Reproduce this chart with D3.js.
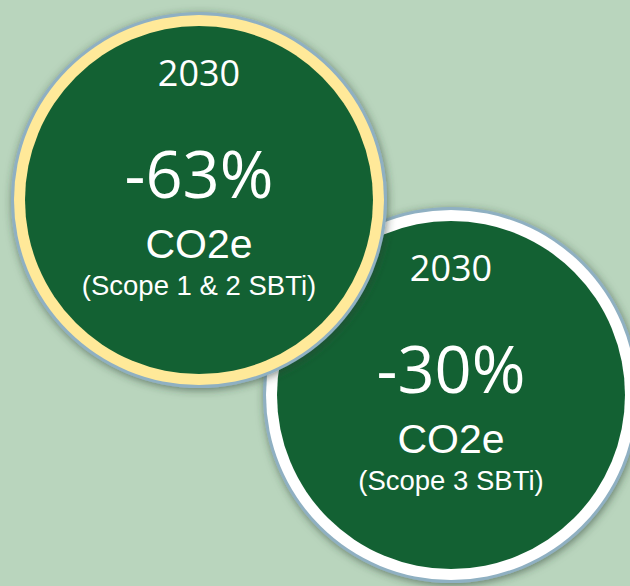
<!DOCTYPE html>
<html>
<head>
<meta charset="utf-8">
<script src="https://cdn.jsdelivr.net/npm/d3@7"></script>
<style>
  html, body { margin: 0; padding: 0; background: #b9d5bd; }
  svg { display: block; }
</style>
</head>
<body>
<script>
// Reduction targets, one disc per scope
const targets = ["scope12", "scope3"];
const years = ["2030", "2030"];
const reductions = [-63, -30];
const units = ["CO2e", "CO2e"];
const scopeLabels = ["(Scope 1 & 2 SBTi)", "(Scope 3 SBTi)"];
const ringColors = ["#ffe999", "#ffffff"];

const W = 630, H = 586;
const svg = d3.select("body").append("svg").attr("width", W).attr("height", H);

svg.append("rect").attr("width", W).attr("height", H).attr("fill", "#b9d5bd");

const defs = svg.append("defs");
const shadow = defs.append("filter").attr("id", "disc-shadow")
  .attr("x", "-20%").attr("y", "-20%").attr("width", "140%").attr("height", "140%");
shadow.append("feDropShadow")
  .attr("dx", 1).attr("dy", 2).attr("stdDeviation", 4)
  .attr("flood-color", "#2f3f35").attr("flood-opacity", 0.6);

// Discs placed diagonally: first upper-left, second lower-right
const x = d3.scalePoint().domain(targets).range([199, 451]);
const y = d3.scalePoint().domain(targets).range([200, 395]);
const outerR = 188, ringR = 185, innerR = 174;

const data = targets.map((k, i) => ({
  key: k, year: years[i], value: reductions[i], unit: units[i],
  scope: scopeLabels[i], ring: ringColors[i]
}));

// plain hyphen for the minus sign
const pct = d3.formatLocale({ decimal: ".", thousands: ",", grouping: [3], currency: ["", ""], minus: "-" }).format("d");

// draw the later disc underneath so the first one overlaps it
const discs = svg.selectAll("g.disc").data(data.slice().reverse()).join("g")
  .attr("class", "disc")
  .attr("transform", d => `translate(${x(d.key)},${y(d.key)})`);

discs.append("circle").attr("r", outerR).attr("fill", "#8fb0c2")
  .attr("filter", "url(#disc-shadow)");
discs.append("circle").attr("r", ringR).attr("fill", d => d.ring);
discs.append("circle").attr("r", innerR).attr("fill", "#136133");

discs.append("text")
  .attr("y", -114).attr("text-anchor", "middle")
  .attr("font-family", "'Open Sans', sans-serif").attr("font-size", 36)
  .attr("fill", "#ffffff")
  .text(d => d.year);

discs.append("text")
  .attr("y", -2).attr("text-anchor", "middle")
  .attr("font-family", "'Open Sans', sans-serif").attr("font-size", 65)
  .attr("fill", "#ffffff")
  .text(d => pct(d.value) + "%");

discs.append("text")
  .attr("y", 58).attr("text-anchor", "middle")
  .attr("font-family", "'Liberation Sans', Arial, sans-serif").attr("font-size", 41)
  .attr("fill", "#ffffff")
  .text(d => d.unit);

discs.append("text")
  .attr("y", 95).attr("text-anchor", "middle")
  .attr("font-family", "'Liberation Sans', Arial, sans-serif").attr("font-size", 27.5)
  .attr("fill", "#ffffff")
  .text(d => d.scope);
</script>
</body>
</html>
